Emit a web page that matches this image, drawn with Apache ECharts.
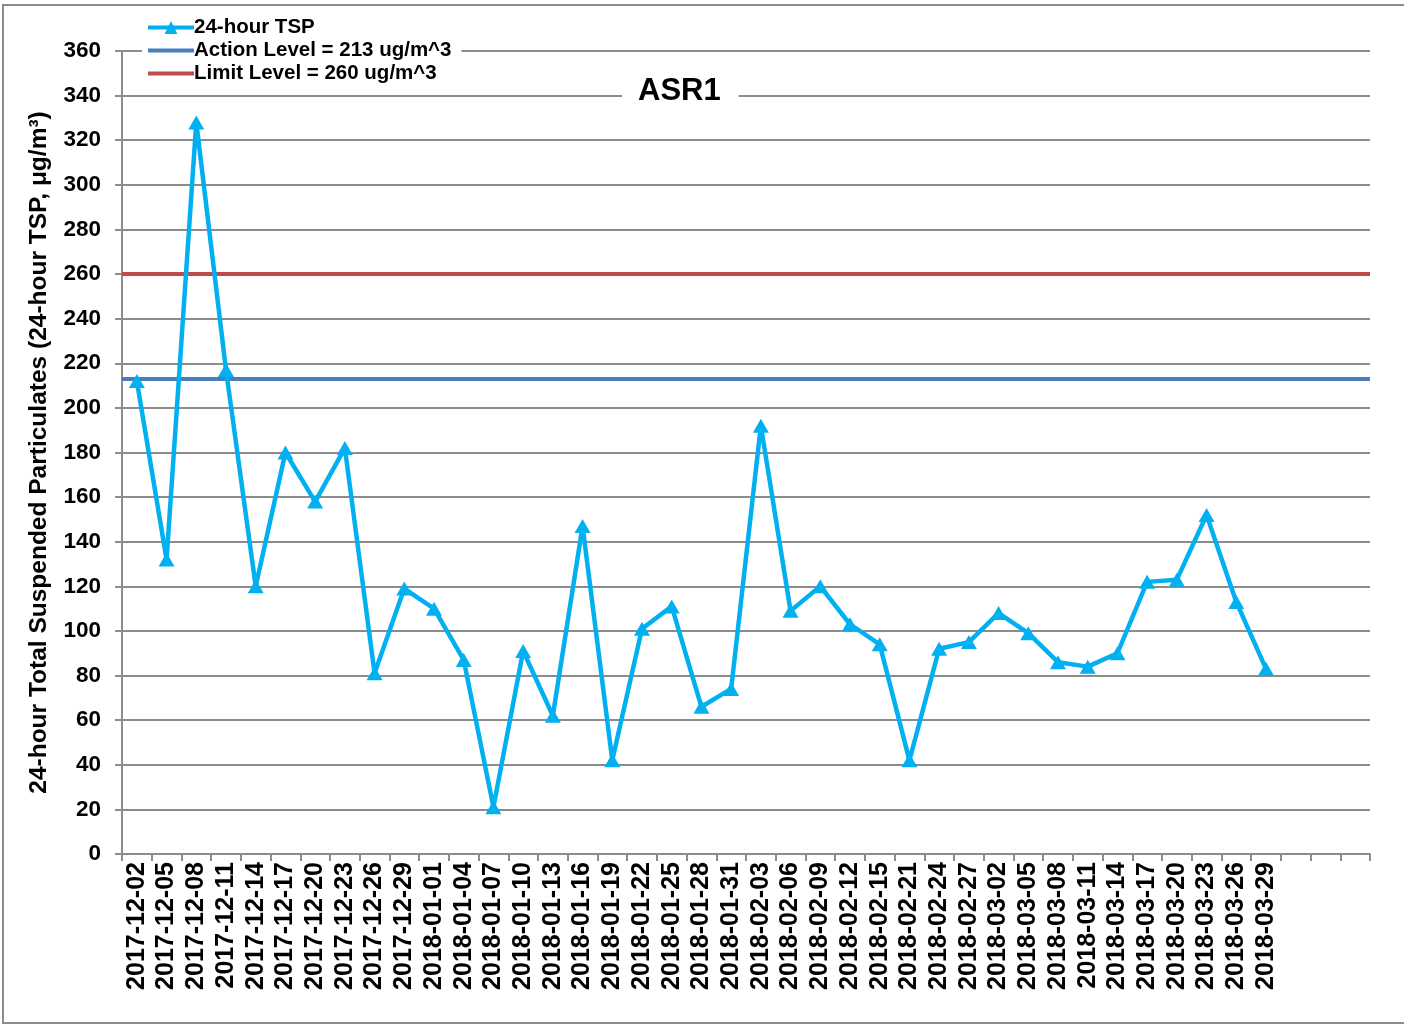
<!DOCTYPE html>
<html>
<head>
<meta charset="utf-8">
<script src="https://cdn.jsdelivr.net/npm/echarts@6/dist/echarts.min.js"></script>
<style>
  html, body { margin: 0; padding: 0; background: #fff; }
  #main { width: 1404px; height: 1025px; }
</style>
</head>
<body>
<div id="main"></div>
<script>
// sampling dates (3 spare slots at the end of the axis)
var dates = ['2017-12-02','2017-12-05','2017-12-08','2017-12-11','2017-12-14','2017-12-17','2017-12-20','2017-12-23',
    '2017-12-26','2017-12-29','2018-01-01','2018-01-04','2018-01-07','2018-01-10','2018-01-13','2018-01-16',
    '2018-01-19','2018-01-22','2018-01-25','2018-01-28','2018-01-31','2018-02-03','2018-02-06','2018-02-09',
    '2018-02-12','2018-02-15','2018-02-21','2018-02-24','2018-02-27','2018-03-02','2018-03-05','2018-03-08',
    '2018-03-11','2018-03-14','2018-03-17','2018-03-20','2018-03-23','2018-03-26','2018-03-29','','',''];
var tsp = [212,132,328,217,120,180,158,182,81,119,110,87,21,91,62,147,42,101,111,66,74,192,109,120,
    103,94,42,92,95,108,99,86,84,90,122,123,152,113,83];
var actionLevel = 213;
var limitLevel = 260;

var font = 'Liberation Sans, Arial, sans-serif';
var myChart = echarts.init(document.getElementById('main'));

myChart.setOption({
    backgroundColor: '#fff',
    animation: false,
    graphic: [{
        type: 'rect',
        shape: {x: 3, y: 5, width: 1420, height: 1018},
        style: {fill: 'none', stroke: '#8c8c8c', lineWidth: 2},
        silent: true
    }],
    title: {
        text: 'ASR1',
        left: 622,
        top: 74,
        backgroundColor: '#fff',
        padding: [2, 18, 2, 16],
        textStyle: {fontFamily: font, fontWeight: 'bold', fontSize: 31, color: '#000'}
    },
    legend: {
        left: 142,
        top: 16,
        orient: 'vertical',
        itemGap: 2,
        itemWidth: 46,
        itemHeight: 16,
        backgroundColor: '#fff',
        padding: [1, 10, 1, 4],
        lineStyle: {width: 4},
        textStyle: {fontFamily: font, fontWeight: 'bold', fontSize: 20.5, color: '#000', padding: [0, 0, 0, -5]},
        data: ['24-hour TSP', 'Action Level = 213 ug/m^3', 'Limit Level = 260 ug/m^3']
    },
    grid: {left: 122, right: 34, top: 51, bottom: 171},
    xAxis: {
        type: 'category',
        data: dates,
        boundaryGap: true,
        axisLine: {lineStyle: {color: '#8c8c8c', width: 2}},
        axisTick: {show: true, alignWithLabel: false, interval: 0, length: 7, lineStyle: {color: '#8c8c8c', width: 2}},
        axisLabel: {interval: 0, rotate: 90, margin: 8, fontFamily: font, fontWeight: 'bold', fontSize: 25, color: '#000'}
    },
    yAxis: {
        type: 'value',
        min: 0,
        max: 360,
        interval: 20,
        name: '24-hour Total Suspended Particulates (24-hour TSP, μg/m³)',
        nameLocation: 'middle',
        nameGap: 70,
        nameTextStyle: {fontFamily: font, fontWeight: 'bold', fontSize: 24.5, color: '#000'},
        axisLine: {show: true, lineStyle: {color: '#8c8c8c', width: 2}},
        axisTick: {show: true, inside: false, length: 7, lineStyle: {color: '#8c8c8c', width: 2}},
        axisLabel: {margin: 21, fontFamily: font, fontWeight: 'bold', fontSize: 22.5, color: '#000'},
        splitLine: {lineStyle: {color: '#8c8c8c', width: 2}}
    },
    series: [
        {
            name: '24-hour TSP',
            type: 'line',
            data: tsp,
            z: 5,
            symbol: 'triangle',
            symbolSize: [16, 14],
            lineStyle: {color: '#00b0f0', width: 4.5},
            itemStyle: {color: '#00b0f0'}
        },
        {
            name: 'Action Level = 213 ug/m^3',
            type: 'line',
            data: [],
            symbol: 'none',
            z: 4,
            lineStyle: {color: '#4a7ebb', width: 4},
            itemStyle: {color: 'rgba(0,0,0,0)'},
            markLine: {
                silent: true,
                symbol: 'none',
                label: {show: false},
                lineStyle: {color: '#4a7ebb', width: 4, type: 'solid'},
                data: [{yAxis: actionLevel}]
            }
        },
        {
            name: 'Limit Level = 260 ug/m^3',
            type: 'line',
            data: [],
            symbol: 'none',
            z: 4,
            lineStyle: {color: '#be4b48', width: 4},
            itemStyle: {color: 'rgba(0,0,0,0)'},
            markLine: {
                silent: true,
                symbol: 'none',
                label: {show: false},
                lineStyle: {color: '#be4b48', width: 4, type: 'solid'},
                data: [{yAxis: limitLevel}]
            }
        }
    ]
});
</script>
</body>
</html>
